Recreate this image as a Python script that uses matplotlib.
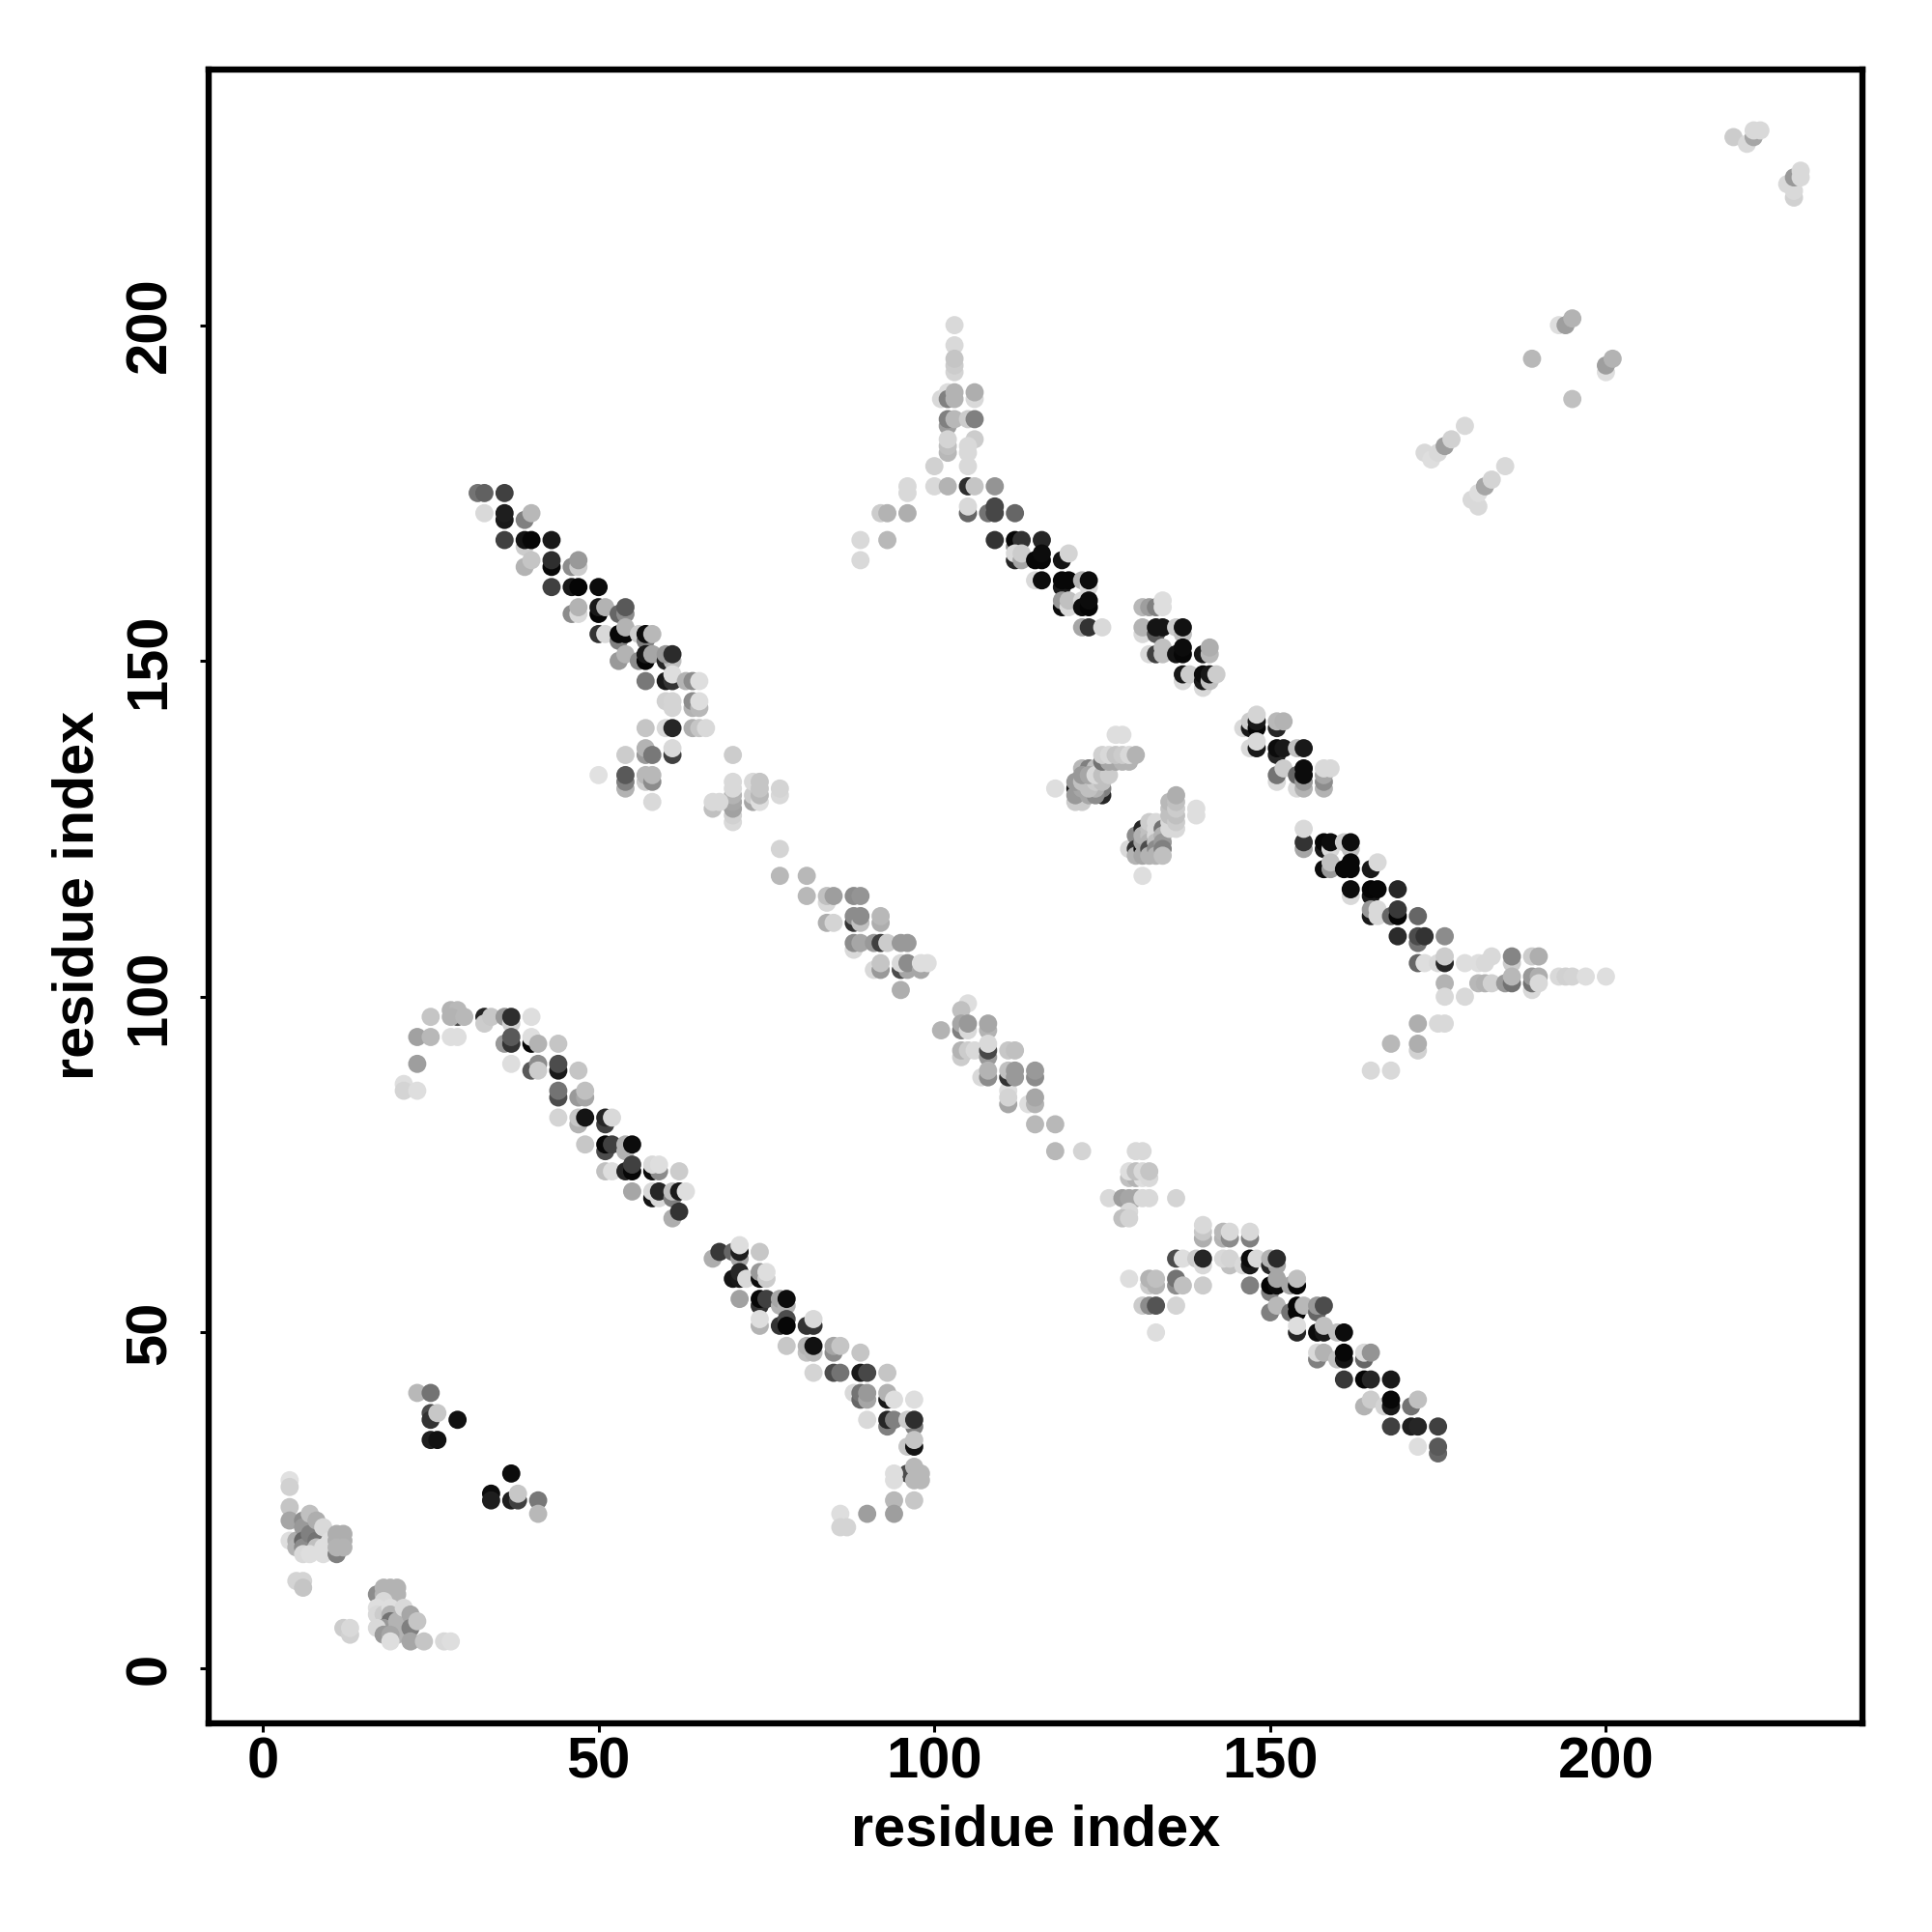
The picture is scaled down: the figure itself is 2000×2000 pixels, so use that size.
import matplotlib
matplotlib.use("Agg")
import matplotlib.pyplot as plt

# (residue i, residue j, grey level of the contact score)
corner_a = [(4,28,.88),(4,27,.82),(4,24,.77),(4,22,.65),(4,19,.87),(5,19,.68),(5,18,.7),(6,22,.55),(6,21,.6),(6,19,.4),(6,18,.55),(6,17,.85),
 (7,23,.75),(7,20,.5),(8,22,.68),(8,19,.45),(8,18,.75),(7,17,.87),(9,21,.85),(9,18,.87),(9,17,.87),(10,19,.87),(10,18,.87),(11,17,.5),(11,20,.68),(12,20,.68),(11,19,.68),(12,19,.68),(11,18,.7),(12,18,.7),
 (5,13,.83),(6,13,.83),(6,12,.77),(12,6,.8),(13,5,.82),(13,6,.85)]
corner_b = [(17,11,.55),(18,12,.7),(19,12,.7),(20,12,.7),(20,11,.7),(18,11,.7),(18,10,.85),(18,9,.85),(17,9,.87),(17,8,.85),(18,8,.8),(19,9,.87),(19,8,.7),(19,7,.45),(19,6,.35),(18,6,.6),(17,6,.85),
 (18,5,.6),(20,7,.7),(20,6,.7),(20,5,.7),(19,5,.65),(19,4,.87),(21,9,.85),(22,8,.65),(22,6,.5),(23,7,.77),(22,4,.65),(24,4,.77),(27,4,.85),(28,4,.87)]
small_c = [(23,41,.72),(25,41,.45),(25,38,.3),(25,37,.2),(26,38,.78),(29,37,.07),(25,34,.12),(26,34,.07),
 (37,29,.05),(34,26,.05),(34,25,.12),(37,25,.12),(38,25,.25),(38,26,.78),(41,25,.47),(41,23,.72)]
strand_d = [(25,97,.77),(29,97,.3),(28,98,.7),(29,98,.72),(28,97,.7),(30,97,.72),(33,97,.15),(33,96,.8),(34,97,.78),(36,97,.6),(37,96,.82),(37,97,.18),(40,97,.87),
 (23,94,.63),(25,94,.72),(28,94,.87),(29,94,.87),(36,93,.6),(37,93,.2),(37,94,.35),(40,93,.03),(40,94,.87),(41,93,.7),(44,93,.77),
 (23,90,.62),(37,90,.87),(40,89,.35),(41,90,.55),(41,89,.8),(44,89,.1),(44,90,.3),(47,89,.77),
 (21,87,.87),(21,86,.83),(23,86,.87),(44,85,.3),(44,86,.45),(47,85,.6),(48,85,.65),(48,86,.75),
 (44,82,.83),(47,81,.7),(47,82,.78),(48,82,.08),(51,81,.25),(51,82,.15),(52,82,.85),
 (48,78,.78),(51,77,.3),(51,78,.03),(52,78,.25),(54,77,.7),(54,78,.7),(55,78,.05),
 (51,74,.75),(52,74,.87),(54,74,.15),(55,74,.03),(55,75,.25),(58,74,.05),(59,74,.55),(58,75,.85),(59,75,.87),(62,74,.8),
 (55,71,.65),(58,70,.08),(58,71,.85),(59,70,.85),(59,71,.15),(61,70,.5),(61,71,.75),(62,71,.1),(63,71,.87),(61,67,.68),(62,68,.2)]
strand_e = [(67,61,.68),(68,62,.22),(70,62,.4),(71,61,.65),(71,62,.12),(71,63,.87),(74,62,.78),
 (70,58,.08),(71,58,.1),(71,59,.15),(72,58,.85),(74,58,.05),(74,59,.6),(75,58,.8),(75,59,.87),
 (71,55,.63),(74,54,.2),(74,55,.03),(75,55,.25),(77,54,.7),(77,55,.65),(78,54,.7),(78,55,.05),
 (74,51,.7),(74,52,.87),(77,51,.2),(78,52,.3),(78,51,.03),(81,51,.2),(82,51,.2),(82,52,.85),
 (78,48,.78),(81,47,.75),(81,48,.7),(82,47,.72),(82,48,.07),(85,47,.55),(85,48,.65),(86,48,.77),(89,47,.77),
 (82,44,.83),(85,44,.3),(86,44,.45),(89,44,.1),(90,44,.28),(93,44,.77),
 (88,41,.85),(89,40,.4),(89,41,.45),(90,40,.65),(90,41,.6),(93,40,.1),(93,41,.7),(94,40,.87),(97,40,.87),
 (90,37,.85),(93,36,.5),(93,37,.15),(94,37,.5),(97,36,.5),(96,37,.8),(97,37,.18),
 (96,33,.78),(97,33,.08),(97,34,.77),(96,29,.3),(97,30,.72),(94,29,.87),(94,28,.87),(97,28,.72),(98,29,.72),(98,28,.72),
 (94,25,.72),(97,25,.78),(90,23,.62),(94,23,.62),(86,23,.87),(86,21,.83),(87,21,.83)]
strand_f = [(32,175,.45),(33,175,.38),(36,175,.25),(33,172,.85),(36,171,.1),(36,172,.12),(39,171,.5),(40,172,.72),
 (39,167,.8),(36,168,.25),(39,168,.08),(40,168,.03),(43,168,.1),
 (39,164,.7),(40,165,.77),(43,164,.03),(43,165,.18),(46,164,.55),(47,164,.8),(47,165,.6),
 (43,161,.25),(46,161,.1),(47,161,.02),(50,161,.05),
 (46,157,.55),(47,157,.85),(47,158,.7),(50,157,.02),(50,158,.1),(51,158,.7),(53,157,.4),(54,157,.55),(54,158,.35),
 (50,154,.2),(51,154,.85),(53,153,.5),(53,154,.03),(54,154,.03),(54,155,.7),(56,154,.8),(57,153,.5),(57,154,.05),(58,154,.72),
 (53,150,.6),(54,151,.7),(56,150,.55),(57,150,.02),(57,151,.1),(58,151,.65),(60,150,.15),(61,150,.75),(60,151,.6),(61,151,.17),
 (57,147,.47),(60,147,.1),(61,147,.2),(61,148,.87),(63,147,.7),(64,147,.55),(65,147,.87),
 (60,144,.82),(61,143,.83),(61,144,.83),(64,143,.7),(64,144,.55),(65,143,.72),(65,144,.87),
 (57,140,.77),(60,140,.85),(61,140,.15),(64,140,.68),(65,140,.77),(66,140,.85),
 (54,136,.8),(57,136,.6),(57,137,.7),(58,136,.47),(61,136,.25),(61,137,.85),
 (50,133,.88),(54,131,.7),(54,132,.5),(54,133,.35),(57,132,.8),(57,133,.72),(58,132,.55),(58,133,.72),(58,129,.85)]
strand_g = [(70,136,.8),(70,126,.85),(70,127,.82),(70,128,.63),(70,129,.65),(70,130,.7),(70,131,.85),(70,132,.85),(67,128,.75),(67,129,.85),(68,129,.85),
 (73,129,.65),(73,130,.8),(73,132,.85),(74,129,.87),(74,130,.72),(74,131,.77),(74,132,.77),(77,130,.85),(77,131,.83),
 (77,122,.83),(77,118,.72),(81,118,.72),(81,115,.72),(84,114,.85),(84,115,.75),(85,115,.62),(88,115,.55),(89,115,.58),
 (84,111,.68),(85,111,.83),(88,111,.2),(88,112,.55),(89,111,.75),(89,112,.55),(92,111,.68),(92,112,.72),
 (88,107,.85),(88,108,.55),(89,108,.65),(91,108,.6),(92,108,.25),(93,108,.8),(95,108,.6),(96,108,.6),
 (91,104,.85),(92,104,.6),(92,105,.77),(95,104,.3),(96,104,.65),(95,105,.85),(96,105,.55),(98,104,.65),(98,105,.87),(99,105,.87),(95,101,.68)]
spike_h = [(103,200,.85),(103,197,.85),(103,193,.83),(103,194,.8),(103,195,.77),(101,189,.85),(102,190,.87),(102,189,.5),(103,189,.7),(103,190,.7),(106,189,.85),(106,190,.68),
 (102,185,.62),(102,186,.5),(103,186,.72),(105,186,.8),(106,186,.5),(102,181,.72),(102,182,.75),(102,183,.83),(106,183,.8),(105,181,.85),(105,182,.85),(105,179,.85),(100,179,.82),
 (100,176,.85),(102,176,.7),(96,175,.85),(96,176,.85),(105,176,.18),(106,176,.77),(109,176,.58),
 (92,172,.8),(93,172,.7),(96,172,.68),(105,172,.4),(105,173,.85),(108,172,.45),(109,172,.28),(109,173,.28),(112,172,.4),
 (89,168,.85),(93,168,.72),(89,165,.85)]
strand_i = [(112,167,.55),(109,168,.2),(112,168,.03),(113,168,.2),(116,168,.15),
 (112,165,.15),(112,166,.85),(113,165,.65),(113,166,.8),(115,165,.03),(116,165,.03),(116,166,.05),(119,165,.08),(120,166,.83),
 (115,162,.85),(116,162,.05),(119,161,.1),(119,162,.03),(120,162,.03),(122,162,.7),(123,161,.85),(123,162,.05),
 (119,158,.05),(119,159,.6),(120,158,.85),(120,159,.75),(122,159,.85),(122,158,.05),(123,158,.02),(123,159,.05),
 (122,155,.65),(123,155,.2),(125,155,.85),
 (131,158,.72),(132,158,.62),(133,158,.5),(134,158,.87),(134,159,.87),
 (131,154,.85),(131,155,.7),(133,154,.35),(133,155,.08),(134,155,.08),(136,155,.8),(137,154,.75),(137,155,.07),
 (132,151,.85),(133,151,.25),(134,151,.75),(134,152,.75),(136,151,.08),(137,151,.03),(137,152,.05),(140,151,.1),(141,151,.72),(141,152,.68),
 (137,147,.85),(137,148,.1),(138,148,.8),(140,146,.85),(140,147,.1),(140,148,.05),(141,147,.75),(141,148,.1),(142,148,.8)]
strand_j = [(146,140,.85),(147,140,.1),(147,141,.8),(148,140,.03),(148,141,.1),(148,142,.83),(151,140,.15),(151,141,.72),(152,141,.7),
 (147,137,.85),(148,137,.1),(148,138,.85),(151,136,.15),(151,137,.05),(152,137,.1),(154,137,.75),(155,137,.1),
 (151,132,.85),(151,133,.45),(152,134,.8),(154,131,.85),(154,133,.4),(155,131,.7),(155,132,.6),(155,133,.05),(155,134,.05),
 (158,131,.7),(158,132,.55),(158,133,.65),(158,134,.85),(159,134,.85)]
strand_k = [(155,122,.65),(155,123,.2),(155,125,.85),(158,122,.1),(158,123,.03),(159,122,.85),(159,123,.05),(161,123,.8),(162,122,.75),(162,123,.05),
 (158,119,.05),(159,119,.6),(159,120,.75),(161,119,.03),(162,119,.03),(162,120,.03),(165,119,.1),(166,120,.85),
 (162,115,.85),(162,116,.05),(165,115,.1),(165,116,.02),(166,116,.03),(169,116,.15),
 (165,112,.1),(165,113,.6),(166,112,.85),(166,113,.85),(168,112,.4),(169,112,.02),(169,113,.22),(172,112,.4),
 (169,109,.17),(172,108,.45),(172,109,.3),(173,109,.2),(176,109,.55),
 (172,105,.4),(173,105,.87),(175,105,.85),(176,105,.15),(176,106,.8),(179,105,.87),(181,105,.87),(182,105,.85),(183,106,.85),(186,105,.8),(186,106,.52),(189,106,.8),(190,106,.68),
 (176,102,.7),(181,102,.72),(182,102,.7),(183,102,.82),(185,102,.6),(186,102,.45),(186,103,.72),(189,101,.85),(189,102,.45),(189,103,.6),(190,103,.68),(190,102,.85),
 (193,103,.85),(194,103,.82),(195,103,.83),(197,103,.87),(200,103,.87),
 (176,100,.85),(179,100,.85),(172,96,.68),(175,96,.85),(176,96,.85),(168,93,.72),(172,92,.82),(172,93,.68),(165,89,.85),(168,89,.85)]
blob_l = [(118,131,.87),(127,139,.87),(128,139,.87),
 (125,130,.15),(125,131,.5),(121,131,.1),(122,130,.25),(121,129,.8),(122,129,.8),(121,130,.6),(123,130,.65),(124,130,.55),(124,131,.7),(122,131,.65),(123,131,.75),
 (121,132,.6),(122,132,.75),(123,132,.75),(124,132,.8),(125,132,.75),
 (122,134,.72),(123,134,.5),(124,134,.75),(122,133,.6),(123,133,.65),(124,133,.85),(125,133,.75),(126,133,.8),
 (125,135,.45),(126,135,.65),(127,135,.65),(128,135,.7),(129,135,.7),(125,136,.82),(126,136,.85),(127,136,.77),(128,136,.8),(129,136,.85),(130,136,.7)]
blob_p = [(131,118,.87),(129,122,.85),(130,124,.55),(130,122,.2),(130,121,.7),(131,125,.15),(131,122,.05),(131,123,.65),(131,124,.7),(131,121,.65),
 (132,125,.75),(132,124,.75),(132,123,.7),(132,122,.3),(132,121,.7),(132,126,.8),
 (133,125,.85),(133,124,.85),(133,123,.75),(133,122,.55),(133,121,.7),(133,126,.85),
 (134,125,.45),(134,124,.7),(134,123,.6),(134,122,.5),(134,121,.75),
 (135,125,.85),(135,126,.85),(135,127,.75),(135,128,.75),(135,129,.72),
 (136,125,.85),(136,126,.8),(136,127,.75),(136,128,.8),(136,129,.75),(136,130,.68),(139,128,.87),(139,127,.87)]
strand_m = [(105,99,.87),(104,98,.75),(101,95,.7),(104,95,.5),(104,96,.65),(105,95,.85),(105,96,.6),(108,95,.7),(108,96,.65),
 (104,91,.8),(104,92,.7),(105,92,.8),(106,92,.85),(108,91,.6),(108,92,.28),(108,93,.85),(111,92,.78),(112,92,.75),
 (107,88,.85),(108,88,.55),(108,89,.7),(111,86,.87),(111,88,.2),(111,89,.75),(112,88,.6),(112,89,.6),(115,88,.55),(115,89,.6),
 (111,84,.65),(111,85,.83),(114,84,.87),(115,84,.7),(115,85,.65),(115,81,.72),(118,81,.72),(118,77,.72),(122,77,.83),
 (130,77,.85),(131,77,.85),(129,73,.75),(130,73,.7),(131,73,.87),(132,73,.85),(129,74,.87),(130,74,.75),(131,74,.85),(132,74,.77),
 (126,70,.85),(128,70,.62),(129,70,.65),(130,70,.65),(131,70,.85),(132,70,.85),(136,70,.83),(129,68,.85),(128,67,.75),(129,67,.83)]
strand_n = [(140,64,.68),(140,65,.78),(140,66,.85),(143,64,.7),(143,65,.72),(144,64,.55),(144,65,.85),(147,64,.5),(147,65,.85),
 (136,61,.3),(137,61,.87),(139,61,.8),(140,60,.85),(140,61,.15),(144,60,.75),(143,61,.85),(144,61,.83),(146,60,.85),(147,60,.1),(147,61,.05),(148,61,.85),(150,60,.15),(151,60,.65),(150,61,.7),(151,61,.17),
 (129,58,.87),(132,57,.8),(133,57,.7),(132,58,.7),(133,58,.75),(136,57,.55),(136,58,.45),(137,57,.75),(140,57,.8),(147,57,.5),
 (150,56,.5),(150,57,.02),(151,57,.05),(151,58,.65),(153,57,.65),(154,57,.03),(154,58,.75),
 (131,54,.8),(132,54,.55),(133,54,.33),(136,54,.83),(150,53,.5),(151,54,.72),(153,53,.45),(154,53,.02),(154,54,.02),(155,54,.72),(157,53,.4),(157,54,.6),(158,54,.3),
 (133,50,.87),(154,50,.15),(154,51,.87),(157,50,.05),(158,50,.1),(158,51,.75),(160,50,.75),(161,50,.05),
 (157,46,.5),(157,47,.85),(158,47,.7),(160,46,.75),(161,46,.08),(161,47,.03),(164,46,.4),(164,47,.85),(165,47,.58),
 (161,43,.22),(164,43,.02),(165,43,.15),(168,43,.1),
 (164,39,.7),(165,40,.8),(167,39,.83),(168,39,.1),(168,40,.03),(171,39,.45),(172,40,.75),
 (168,36,.25),(171,36,.12),(172,36,.15),(175,36,.25),(172,33,.87),(175,32,.4),(175,33,.35)]
far_o = [(219,228,.8),(221,227,.85),(222,228,.65),(222,229,.85),(223,229,.85),(227,221,.85),(228,219,.82),(228,220,.85),(228,222,.6),(229,222,.85),(229,223,.85),
 (193,200,.87),(194,200,.62),(195,201,.7),(189,195,.72),(200,193,.87),(200,194,.62),(201,195,.7),(195,189,.75),
 (173,181,.85),(174,180,.87),(175,181,.85),(176,182,.62),(177,183,.82),(179,185,.85),
 (180,174,.85),(181,173,.85),(181,175,.87),(182,176,.65),(183,177,.83),(185,179,.85)]

groups = [corner_a, corner_b, small_c, strand_d, strand_e, strand_f, strand_g, spike_h, strand_i,
          strand_j, strand_k, blob_l, blob_p, strand_m, strand_n, far_o]
tick_values = [0, 50, 100, 150, 200]
axis_title = "residue index"

plt.rcParams["font.family"] = ["Liberation Sans", "DejaVu Sans"]
plt.rcParams["font.weight"] = "bold"

fig = plt.figure(figsize=(10, 10), dpi=200)
ax = fig.add_axes([216/2000, 1 - 1784/2000, (1928-216)/2000, (1784-72)/2000])
for g in groups:
    xs, ys, cs = zip(*g)
    ax.scatter(xs, ys, c=cs, cmap="gray", vmin=0, vmax=1, s=46, linewidths=0, zorder=3)
ax.set_xlim(-8.06, 238.2)
ax.set_ylim(-8.2, 238.06)
for s in ax.spines.values():
    s.set_linewidth(2.3)
ax.set_xticks(tick_values)
ax.set_yticks(tick_values)
ax.tick_params(axis="x", length=3.2, width=1.1, pad=1.5, labelsize=21.5)
ax.tick_params(axis="y", length=3.2, width=1.1, pad=8.6, labelsize=21.5)
for t in ax.get_yticklabels():
    t.set_rotation(90)
    t.set_va("center")
fig.text(1072/2000, 1 - 1910.5/2000, axis_title, ha="center", va="baseline", fontsize=21.4, fontweight="bold")
fig.text(81.5/2000, 1 - 927/2000, axis_title, ha="center", va="center", rotation=90, fontsize=21.4, fontweight="bold")
fig.savefig("out.png", dpi=200, facecolor="white")
